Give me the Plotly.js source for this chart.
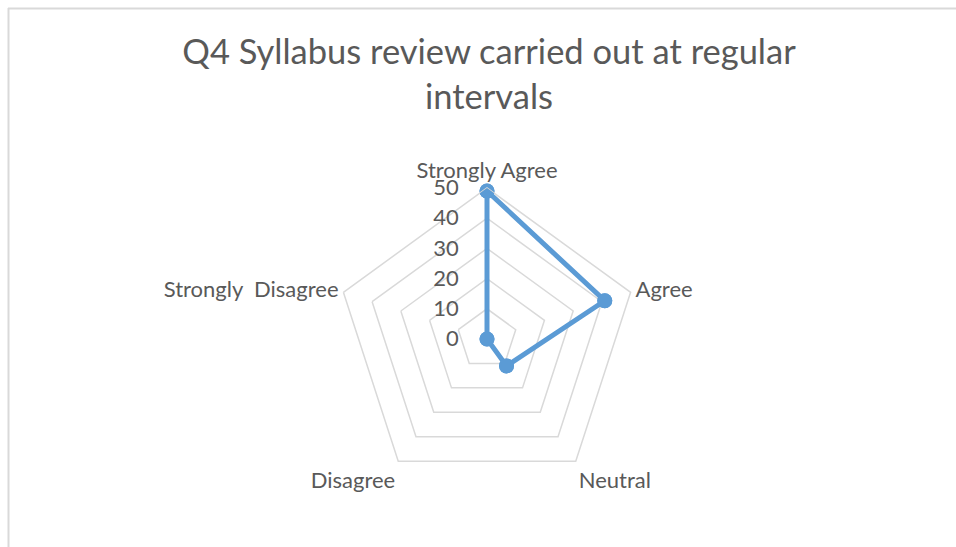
<!DOCTYPE html>
<html>
<head>
<meta charset="utf-8">
<script src="https://cdn.plot.ly/plotly-3.0.1.min.js"></script>
<style>
  html, body { margin: 0; padding: 0; background: #ffffff; overflow: hidden; }
  #chart { width: 956px; height: 547px; }
</style>
</head>
<body>
<div id="chart"></div>
<script>
// Data
const categories = ["Strongly Agree", "Agree", "Neutral", "Disagree", "Strongly\u00a0 Disagree"];
const values = [49, 41, 11, 0, 0];
const radialTicks = [0, 10, 20, 30, 40, 50];
const chartTitle = "Q4 Syllabus review carried out at regular<br>intervals";

const W = 956, H = 547;
const cx = 487, cy = 339, R = 151;
const fontFam = "Lato, 'Open Sans', sans-serif";
const textColor = "#595959";
const gridColor = "#d9d9d9";
const seriesColor = "#5b9bd5";

// close the polygon
const thetaClosed = categories.concat([categories[0]]);
const rClosed = values.concat([values[0]]);

// main series: line + markers (not clipped, so edge markers stay whole)
const traceLine = {
  type: "scatterpolar",
  subplot: "polar",
  r: rClosed,
  theta: thetaClosed,
  mode: "lines+markers",
  cliponaxis: false,
  line: { color: seriesColor, width: 5 },
  marker: { color: seriesColor, size: 15 },
  hoverinfo: "none",
  showlegend: false
};
// same points again as markers on an overlaid, clipped subplot, so the markers at r = 0 are drawn too
const traceCentre = {
  type: "scatterpolar",
  subplot: "polar2",
  r: values,
  theta: categories,
  mode: "markers",
  cliponaxis: true,
  marker: { color: seriesColor, size: 15 },
  hoverinfo: "none",
  showlegend: false
};

const domain = {
  x: [(cx - R) / W, (cx + R) / W],
  y: [(H - cy - R) / H, (H - cy + R) / H]
};

const layout = {
  width: W,
  height: H,
  margin: { l: 0, r: 0, t: 0, b: 0 },
  paper_bgcolor: "#ffffff",
  plot_bgcolor: "#ffffff",
  font: { family: fontFam, color: textColor },
  title: {
    text: chartTitle,
    font: { family: fontFam, size: 34.5, color: textColor },
    x: 489 / W,
    xanchor: "center",
    xref: "paper",
    y: 1 - 64 / H,
    yanchor: "top",
    yref: "paper"
  },
  polar: {
    domain: domain,
    gridshape: "linear",
    bgcolor: "rgba(0,0,0,0)",
    radialaxis: {
      range: [0, 50],
      tickvals: radialTicks,
      ticktext: radialTicks.map(String),
      angle: 90,
      tickangle: 90,
      side: "counterclockwise",
      showline: false,
      ticks: "outside",
      ticklen: 20,
      tickcolor: "rgba(0,0,0,0)",
      showgrid: true,
      gridcolor: gridColor,
      gridwidth: 1.5,
      tickfont: { family: fontFam, size: 22, color: textColor }
    },
    angularaxis: {
      direction: "clockwise",
      rotation: 90,
      showgrid: false,
      showline: true,
      linecolor: gridColor,
      linewidth: 1.5,
      ticks: "",
      tickfont: { family: fontFam, size: 22, color: textColor }
    }
  },
  polar2: {
    domain: domain,
    gridshape: "linear",
    bgcolor: "rgba(0,0,0,0)",
    radialaxis: {
      range: [0, 50],
      angle: 90,
      showline: false,
      showgrid: false,
      showticklabels: false,
      ticks: ""
    },
    angularaxis: {
      direction: "clockwise",
      rotation: 90,
      categoryarray: categories,
      showgrid: false,
      showline: false,
      showticklabels: false,
      ticks: ""
    }
  },
  shapes: [
    { type: "line", xref: "paper", yref: "paper", x0: 8.5 / W, x1: 8.5 / W, y0: 0, y1: 1 - 8 / H,
      line: { color: gridColor, width: 2 } },
    { type: "line", xref: "paper", yref: "paper", x0: 8 / W, x1: 1, y0: 1 - 8.5 / H, y1: 1 - 8.5 / H,
      line: { color: gridColor, width: 2 } }
  ]
};

Plotly.newPlot("chart", [traceLine, traceCentre], layout, { displayModeBar: false, staticPlot: true });
</script>
</body>
</html>
